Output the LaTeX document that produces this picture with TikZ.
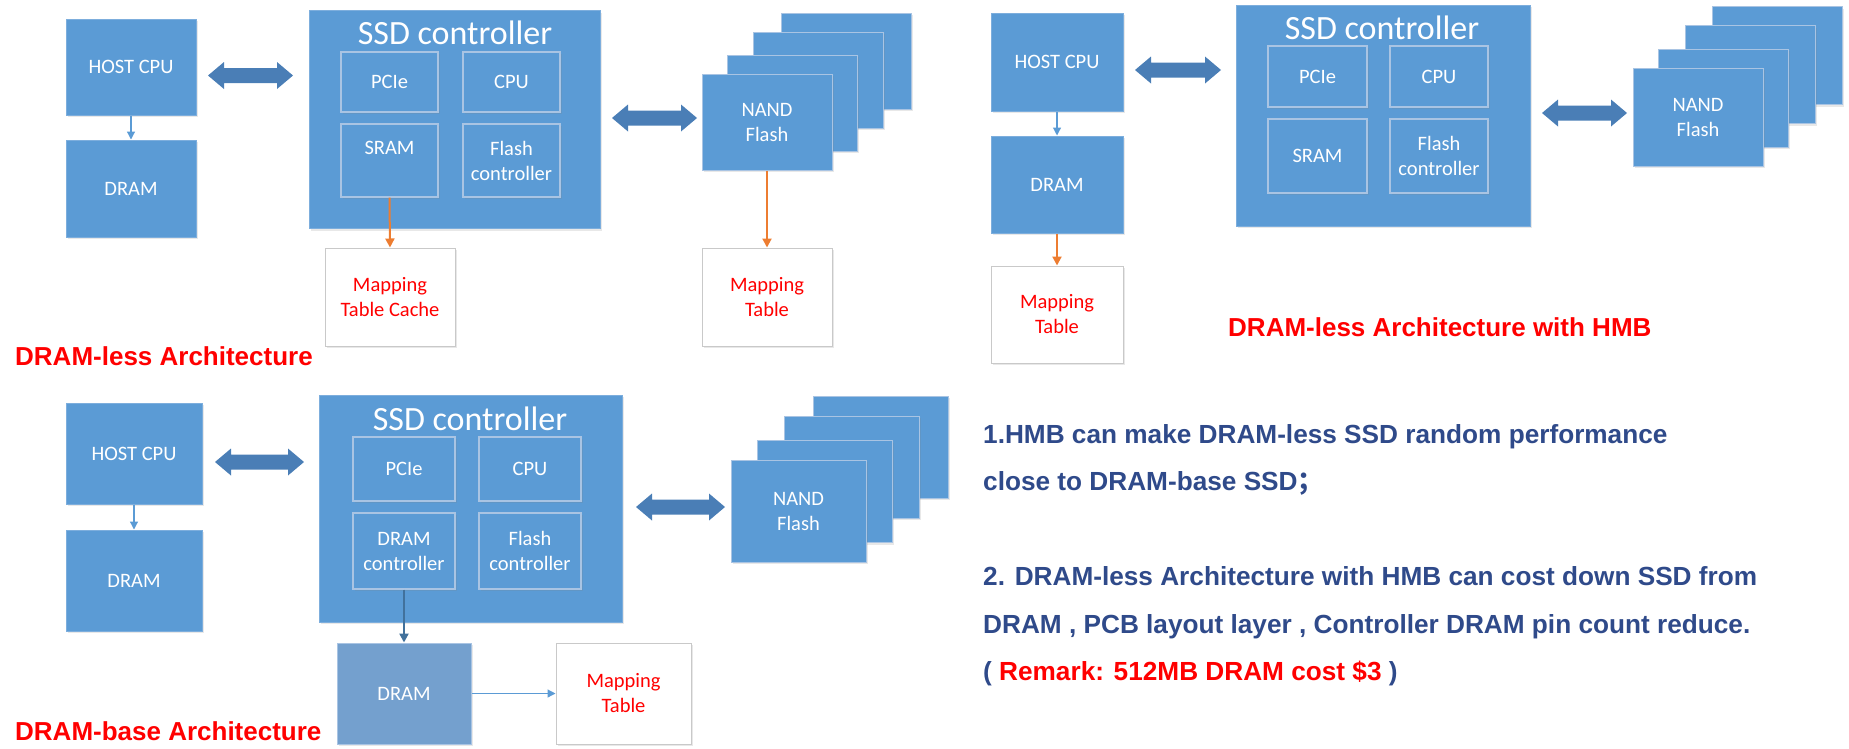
\documentclass[tikz,border=0pt]{standalone}
\usepackage{fontspec}
\setmainfont{Carlito}
\newfontfamily\arialfont{Liberation Sans}
\newfontfamily\cjkfont{Noto Sans CJK SC}
\usetikzlibrary{arrows.meta,shadows,calc}

\definecolor{boxblue}{HTML}{5B9BD5}
\definecolor{boxedge}{HTML}{7DAEDD}
\definecolor{inneredge}{HTML}{A9C4E3}
\definecolor{fatblue}{HTML}{4A7EB6}
\definecolor{dramblue}{HTML}{74A0CE}
\definecolor{darkline}{HTML}{41719C}
\definecolor{orangeline}{HTML}{ED7D31}
\definecolor{notered}{HTML}{FF0000}
\definecolor{noteblue}{HTML}{2F4A8A}
\definecolor{greyedge}{HTML}{C9C9C9}

\tikzset{
  sz/.style 2 args={minimum width=#1, minimum height=#2},
  base/.style={rectangle, inner sep=0pt, align=center,
    font=\fontsize{20.5}{25}\selectfont},
  shade/.style={drop shadow={opacity=0.18, shadow xshift=1.5pt, shadow yshift=-2pt}},
  blk/.style={base, shade, fill=boxblue, draw=boxedge, line width=1pt, text=white},
  inner/.style={base, shade, fill=boxblue, draw=inneredge, line width=1.4pt, text=white},
  chip/.style={base, shade, fill=boxblue, draw=inneredge, line width=1pt, text=white},
  ext/.style={base, shade, fill=dramblue, draw=inneredge, line width=1pt, text=white},
  tbl/.style={base, shade, fill=white, draw=greyedge, line width=1pt, text=notered},
  ctitle/.style={inner sep=0pt, text=white, font=\fontsize{34}{40}\selectfont},
  archlabel/.style={inner sep=0pt, anchor=west, text=notered,
    font=\arialfont\bfseries\fontsize{26}{30}\selectfont},
  noteline/.style={inner sep=0pt, anchor=base west, text=noteblue,
    font=\arialfont\bfseries\fontsize{26.2}{30}\selectfont},
  thinarrow/.style={draw=boxblue, line width=1.2pt, -{Triangle[length=8pt,width=8pt]}},
  orangearrow/.style={draw=orangeline, line width=2pt, -{Triangle[length=9pt,width=9pt]}},
  darkarrow/.style={draw=darkline, line width=2.6pt, -{Triangle[length=9pt,width=9pt]}},
}

% wide two-headed block arrow between two tip points on the same level
\newcommand\fatarrow[2]{%
  \fill[fatblue] (#1) -- ++(16pt,13.5pt) -- ++(0pt,-6pt)
    -- ($(#2)+(-16pt,7.5pt)$) -- ++(0pt,6pt) -- (#2)
    -- ++(-16pt,-13.5pt) -- ++(0pt,6pt)
    -- ($(#1)+(16pt,-7.5pt)$) -- ++(0pt,-6pt) -- cycle;}

\begin{document}
\begin{tikzpicture}[x=1pt,y=-1pt]
\useasboundingbox (0,0) rectangle (1849,748);

% ---------------- DRAM-less architecture ----------------
\node[blk, sz={130}{96}] (hostA) at (131,67) {HOST CPU};
\node[blk, sz={130}{97}] (dramA) at (131,188.5) {DRAM};
\draw[thinarrow] (hostA.south) -- (dramA.north);

\node[blk, sz={291}{218}] (ssdA) at (454.5,119.7) {};
\node[ctitle] (titleA) at (455,33) {SSD controller};
\node[inner, sz={97}{60}] (pcieA) at (389.5,82) {PCIe};
\node[inner, sz={97}{60}] (cpuA) at (511.5,82) {CPU};
\node[inner, sz={97}{73}] (sramA) at (389.5,160.5) {SRAM\\\mbox{}};
\node[inner, sz={97}{73}] (flashA) at (511.5,160.5) {Flash\\controller};

\node[tbl, sz={130}{98}] (mtcA) at (390,297) {Mapping\\Table Cache};
\draw[orangearrow] (sramA.south) -- (mtcA.north);

\coordinate (hA1) at (208,75.5);
\coordinate (hA2) at (293,75.5);
\fatarrow{hA1}{hA2}

\node[chip, sz={130}{96}] (nandA4) at (846.5,61) {};
\node[chip, sz={130}{96}] (nandA3) at (818.5,80) {};
\node[chip, sz={130}{96}] (nandA2) at (792.5,103) {};
\node[chip, sz={130}{96}] (nandA) at (767,122) {NAND\\Flash};
\coordinate (nA1) at (612,118);
\coordinate (nA2) at (697,118);
\fatarrow{nA1}{nA2}

\node[tbl, sz={130}{98}] (mtA) at (767,297) {Mapping\\Table};
\draw[orangearrow] (nandA.south) -- (mtA.north);

\node[archlabel] (labA) at (15,356) {DRAM-less Architecture};

% ---------------- DRAM-less architecture with HMB ----------------
\node[blk, sz={132}{98}] (hostB) at (1057,62) {HOST CPU};
\node[blk, sz={132}{97}] (dramB) at (1057,184.5) {DRAM};
\node[tbl, sz={132}{97}] (mtB) at (1057,314.5) {Mapping\\Table};
\draw[thinarrow] (hostB.south) -- (dramB.north);
\draw[orangearrow] (dramB.south) -- (mtB.north);

\coordinate (hB1) at (1135,70);
\coordinate (hB2) at (1221,70);
\fatarrow{hB1}{hB2}

\node[blk, sz={294}{221}] (ssdB) at (1383,115.5) {};
\node[ctitle] (titleB) at (1382,28) {SSD controller};
\node[inner, sz={99}{61}] (pcieB) at (1317.5,76.5) {PCIe};
\node[inner, sz={98}{61}] (cpuB) at (1439,76.5) {CPU};
\node[inner, sz={99}{74}] (sramB) at (1317.5,156) {SRAM};
\node[inner, sz={98}{74}] (flashB) at (1439,156) {Flash\\controller};

\coordinate (nB1) at (1542,113);
\coordinate (nB2) at (1627,113);
\fatarrow{nB1}{nB2}

\node[chip, sz={130}{98}] (nandB4) at (1777.5,55.5) {};
\node[chip, sz={130}{98}] (nandB3) at (1750,74.5) {};
\node[chip, sz={130}{98}] (nandB2) at (1723,98) {};
\node[chip, sz={130}{98}] (nandB) at (1698,117) {NAND\\Flash};

\node[archlabel] (labB) at (1228,327) {DRAM-less Architecture with HMB};

% ---------------- DRAM-base architecture ----------------
\node[blk, sz={136}{101}] (hostC) at (134,453.5) {HOST CPU};
\node[blk, sz={136}{101}] (dramC) at (134,580.5) {DRAM};
\draw[thinarrow] (hostC.south) -- (dramC.north);

\coordinate (hC1) at (215,462);
\coordinate (hC2) at (304,462);
\fatarrow{hC1}{hC2}

\node[blk, sz={303}{227}] (ssdC) at (470.5,508.5) {};
\node[ctitle] (titleC) at (470,419) {SSD controller};
\node[inner, sz={102}{64}] (pcieC) at (404,469) {PCIe};
\node[inner, sz={102}{64}] (cpuC) at (530,469) {CPU};
\node[inner, sz={102}{76}] (dctlC) at (404,551) {DRAM\\controller};
\node[inner, sz={102}{76}] (flashC) at (530,551) {Flash\\controller};

\node[ext, sz={134}{101}] (dramX) at (404,693.5) {DRAM};
\node[tbl, sz={135}{101}] (mtC) at (623.5,693.5) {Mapping\\Table};
\draw[darkarrow] (dctlC.south) -- (dramX.north);
\draw[thinarrow] (dramX.east) -- (mtC.west);

\coordinate (nC1) at (636,507);
\coordinate (nC2) at (725,507);
\fatarrow{nC1}{nC2}

\node[chip, sz={135}{102}] (nandC4) at (880.5,447) {};
\node[chip, sz={135}{102}] (nandC3) at (851.5,467) {};
\node[chip, sz={135}{102}] (nandC2) at (824.5,491.5) {};
\node[chip, sz={135}{102}] (nandC) at (798.5,511) {NAND\\Flash};

\node[archlabel] (labC) at (15,731) {DRAM-base Architecture};

% ---------------- notes ----------------
\node[noteline] (note1) at (983,443) {1.HMB can make DRAM-less SSD random performance};
\node[noteline] (note2) at (983,490) {close to DRAM-base SSD{\cjkfont ；}};
\node[noteline] (note3) at (983,585) {2. DRAM-less Architecture with HMB can cost down SSD from};
\node[noteline] (note4) at (983,633) {DRAM , PCB layout layer , Controller DRAM pin count reduce.};
\node[noteline] (note5) at (983,680) {( {\color{notered}Remark: 512MB DRAM cost \$3} )};
\end{tikzpicture}
\end{document}
